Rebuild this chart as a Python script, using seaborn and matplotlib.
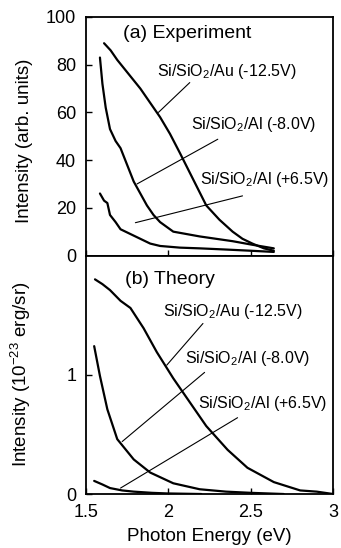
import numpy as np
import pandas as pd
import matplotlib
matplotlib.use("Agg")
import matplotlib.pyplot as plt
import seaborn as sns

# experiment (a)
exp_au_x = [1.61, 1.65, 1.69, 1.76, 1.83, 1.89, 1.95, 2.01, 2.07, 2.15, 2.23, 2.31, 2.39, 2.45, 2.51, 2.58, 2.64]
exp_au_y = [89, 86, 82, 76, 70, 64, 58, 51, 43, 32, 21, 15, 10, 7, 5, 3, 2]
exp_alm_x = [1.585, 1.60, 1.62, 1.646, 1.68, 1.71, 1.75, 1.79, 1.83, 1.87, 1.91, 1.95, 2.03, 2.11, 2.19, 2.29, 2.39, 2.51, 2.64]
exp_alm_y = [83, 72, 62, 53, 48, 45, 38, 31, 26, 21, 17, 14, 10, 9, 8, 7, 6, 4.5, 3]
exp_alp_x = [1.585, 1.61, 1.63, 1.646, 1.68, 1.71, 1.77, 1.83, 1.89, 1.95, 2.07, 2.19, 2.35, 2.5, 2.64]
exp_alp_y = [26, 23, 22, 17, 14, 11, 9, 7, 5, 4, 3.3, 3, 2.5, 2, 1.5]

# theory (b)
th_au_x = [1.555, 1.60, 1.646, 1.71, 1.77, 1.85, 1.93, 2.03, 2.13, 2.23, 2.36, 2.48, 2.64, 2.80, 2.9, 3.0]
th_au_y = [1.80, 1.76, 1.71, 1.62, 1.56, 1.39, 1.19, 0.97, 0.77, 0.57, 0.37, 0.22, 0.10, 0.03, 0.02, 0.0]
th_alm_x = [1.55, 1.585, 1.63, 1.69, 1.79, 1.89, 2.03, 2.19, 2.35, 2.5, 2.7]
th_alm_y = [1.24, 0.99, 0.71, 0.46, 0.29, 0.18, 0.09, 0.04, 0.02, 0.01, 0.0]
th_alp_x = [1.55, 1.60, 1.646, 1.72, 1.79, 1.9, 1.99, 2.2]
th_alp_y = [0.11, 0.08, 0.05, 0.03, 0.02, 0.01, 0.005, 0.0]

labels = ["Si/SiO$_2$/Au (-12.5V)", "Si/SiO$_2$/Al (-8.0V)", "Si/SiO$_2$/Al (+6.5V)"]

sns.set_style("ticks")
plt.rcParams['font.family'] = ['Liberation Sans', 'DejaVu Sans']
plt.rcParams['xtick.direction'] = 'in'
plt.rcParams['ytick.direction'] = 'in'
plt.rcParams['mathtext.fontset'] = 'custom'
plt.rcParams['mathtext.rm'] = 'Liberation Sans'
for k in ['text.color', 'axes.labelcolor', 'xtick.color', 'ytick.color', 'axes.edgecolor']:
    plt.rcParams[k] = 'black'

fig, (ax1, ax2) = plt.subplots(2, 1, figsize=(3.41, 5.48), dpi=100, sharex=True)
fig.subplots_adjust(left=0.252, right=0.977, top=0.969, bottom=0.0985, hspace=0)

for xs, ys in [(exp_au_x, exp_au_y), (exp_alm_x, exp_alm_y), (exp_alp_x, exp_alp_y)]:
    sns.lineplot(x=xs, y=ys, ax=ax1, color="black", linewidth=1.6, sort=False)
for xs, ys in [(th_au_x, th_au_y), (th_alm_x, th_alm_y), (th_alp_x, th_alp_y)]:
    sns.lineplot(x=xs, y=ys, ax=ax2, color="black", linewidth=1.6, sort=False)

ax1.set_xlim(1.5, 3)
ax1.set_ylim(0, 100)
ax1.set_yticks([0, 20, 40, 60, 80, 100])
ax2.set_ylim(0, 2)
ax2.set_yticks([0, 1])
ax2.set_xticks([1.5, 2, 2.5, 3])
ax2.set_xticklabels(["1.5", "2", "2.5", "3"])

for ax in (ax1, ax2):
    for s in ax.spines.values():
        s.set_linewidth(1.3)
    ax.tick_params(labelsize=13, length=4, width=1, pad=7)
ax1.tick_params(axis="x", labelbottom=False)

ax1.set_ylabel("Intensity (arb. units)", fontsize=13.5)
ax2.set_ylabel("Intensity (10$^{-23}$ erg/sr)", fontsize=13.5)
ax2.set_xlabel("Photon Energy (eV)", fontsize=13.5, labelpad=5)
ax1.yaxis.set_label_coords(-0.215, 0.48)
ax2.yaxis.set_label_coords(-0.215, 0.5)

ax1.text(1.725, 93, "(a) Experiment", fontsize=14, va="center")
ax2.text(1.737, 1.80, "(b) Theory", fontsize=14, va="center")

# annotations: label positions and leader lines
ann1 = [((1.93, 77), (2.13, 72.5), (1.94, 60)),
        ((2.14, 55), (2.30, 48.75), (1.81, 30)),
        ((2.19, 32), (2.45, 25), (1.80, 13.75))]
for lab, (tpos, p0, p1) in zip(labels, ann1):
    ax1.text(tpos[0], tpos[1], lab, fontsize=11.5, va="center")
    ax1.plot([p0[0], p1[0]], [p0[1], p1[1]], color="black", linewidth=0.8)

ann2 = [((1.97, 1.53), (2.21, 1.43), (1.99, 1.08)),
        ((2.10, 1.14), (2.22, 1.02), (1.72, 0.44)),
        ((2.18, 0.76), (2.42, 0.64), (1.71, 0.05))]
for lab, (tpos, p0, p1) in zip(labels, ann2):
    ax2.text(tpos[0], tpos[1], lab, fontsize=11.5, va="center")
    ax2.plot([p0[0], p1[0]], [p0[1], p1[1]], color="black", linewidth=0.8)

fig.savefig("out.png", dpi=100)
